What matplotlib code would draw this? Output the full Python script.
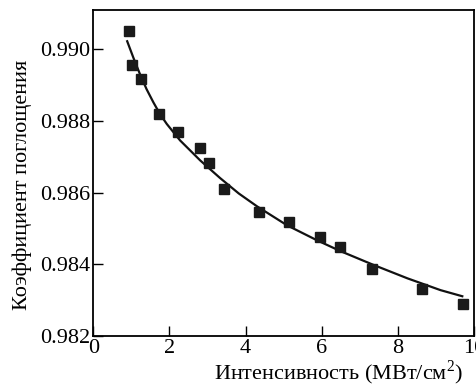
import matplotlib
matplotlib.use('Agg')
import matplotlib.pyplot as plt

plt.rcParams['font.family'] = ['Liberation Serif', 'DejaVu Serif']
plt.rcParams['mathtext.fontset'] = 'custom'
plt.rcParams['mathtext.rm'] = 'Liberation Serif'

# measured points
intensity = [0.94, 1.02, 1.26, 1.73, 2.22, 2.81, 3.05, 3.44, 4.35, 5.13, 5.95, 6.47, 7.32, 8.62, 9.71]
absorption = [0.99051, 0.98958, 0.98917, 0.98821, 0.98769, 0.98725, 0.98684, 0.98610,
              0.98546, 0.98518, 0.98476, 0.98449, 0.98388, 0.98332, 0.98289]

# fitted curve
fit_x = [0.89, 1.06, 1.23, 1.40, 1.58, 1.75, 1.93, 2.28, 2.81, 3.33, 3.82, 4.30, 5.09, 5.88, 6.49, 7.37, 8.25, 9.12, 9.69]
fit_y = [0.99023, 0.98975, 0.98930, 0.98889, 0.98852, 0.98820, 0.98792, 0.98746, 0.98690, 0.98641,
         0.98598, 0.98562, 0.98509, 0.98467, 0.98437, 0.98398, 0.98361, 0.98328, 0.98311]

xticks_vals = [0, 2, 4, 6, 8, 10]
yticks_vals = [0.982, 0.984, 0.986, 0.988, 0.990]

fig = plt.figure(figsize=(4.76, 3.88), dpi=100)
ax = fig.add_axes([0.196, 0.134, 0.8, 0.84])

ax.plot(fit_x, fit_y, color='#111111', linewidth=1.6, zorder=2,
        solid_joinstyle='round')
ax.plot(intensity, absorption, linestyle='none', marker='s', markersize=6.5,
        color='#1a1a1a', zorder=3)

ax.set_xlim(0, 10)
ax.set_ylim(0.982, 0.9911)
ax.set_xticks(xticks_vals)
ax.set_yticks(yticks_vals)
ax.set_xticklabels([str(v) for v in xticks_vals])
ax.set_yticklabels(['%.3f' % v for v in yticks_vals])

ax.tick_params(direction='in', length=7, width=1.0, labelsize=16, pad=2,
               top=False, right=False)
for s in ax.spines.values():
    s.set_linewidth(1.3)

ax.set_xlabel('Интенсивность (МВт/см$^{2}$)', fontsize=16, ha='right')
ax.xaxis.set_label_coords(0.971, -0.07)
ax.set_ylabel('Коэффициент поглощения', fontsize=16)
ax.yaxis.set_label_coords(-0.16, 0.463)

fig.savefig('out.png', dpi=100)
